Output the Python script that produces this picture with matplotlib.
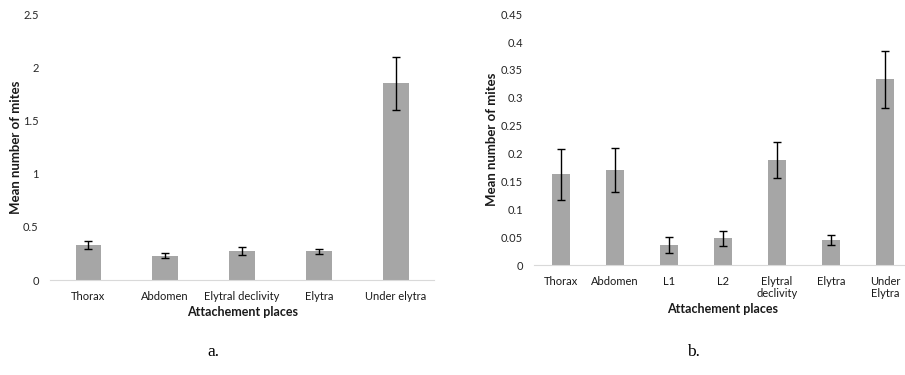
import numpy as np
import matplotlib.pyplot as plt

# panel a
places_a = ["Thorax", "Abdomen", "Elytral declivity", "Elytra", "Under elytra"]
mean_a = [0.33, 0.23, 0.27, 0.27, 1.85]
err_a = [0.035, 0.022, 0.037, 0.027, 0.25]
yticks_a = [0, 0.5, 1, 1.5, 2, 2.5]
yticklabels_a = ["0", "0.5", "1", "1.5", "2", "2.5"]

# panel b
places_b = ["Thorax", "Abdomen", "L1", "L2", "Elytral\ndeclivity", "Elytra", "Under\nElytra"]
mean_b = [0.163, 0.171, 0.036, 0.048, 0.189, 0.045, 0.333]
err_b = [0.046, 0.039, 0.015, 0.013, 0.032, 0.009, 0.051]
yticks_b = [0, 0.05, 0.1, 0.15, 0.2, 0.25, 0.3, 0.35, 0.4, 0.45]
yticklabels_b = ["0", "0.05", "0.1", "0.15", "0.2", "0.25", "0.3", "0.35", "0.4", "0.45"]

plt.rcParams['font.family'] = ['Lato', 'DejaVu Sans']
bar_col = "#a6a6a6"
axis_col = "#d9d9d9"

fig = plt.figure(figsize=(9.05, 3.75), dpi=100)
ax1 = fig.add_axes([0.055, 0.253, 0.425, 0.709])
ax2 = fig.add_axes([0.590, 0.293, 0.4177, 0.669])


def draw(ax, places, means, errs, yt, ytl, ylim):
    x = np.arange(len(places))
    ax.bar(x, means, width=0.33, color=bar_col, zorder=2)
    ax.errorbar(x, means, yerr=errs, fmt='none', ecolor='black',
                elinewidth=1, capsize=3, capthick=1, zorder=3)
    ax.set_xlim(-0.5, len(places) - 0.5)
    ax.set_ylim(*ylim)
    ax.set_yticks(yt)
    ax.set_yticklabels(ytl, fontsize=8, color="#262626")
    ax.set_xticks(x)
    ax.set_xticklabels(places, fontsize=8, color="#1a1a1a", linespacing=1.1)
    for s in ['top', 'right', 'left']:
        ax.spines[s].set_visible(False)
    ax.spines['bottom'].set_color(axis_col)
    ax.tick_params(length=0, pad=8)
    ax.set_xlabel("Attachement places", fontsize=9, fontweight='bold', color="#1a1a1a")
    ax.set_ylabel("Mean number of mites", fontsize=9.5, fontweight='bold', color="#1a1a1a")


draw(ax1, places_a, mean_a, err_a, yticks_a, yticklabels_a, (0, 2.5))
draw(ax2, places_b, mean_b, err_b, yticks_b, yticklabels_b, (0, 0.45))
ax1.xaxis.labelpad = 3
ax2.xaxis.labelpad = 3
ax1.yaxis.labelpad = 1
ax2.yaxis.labelpad = 2

fig.text(213 / 905, 1 - 352 / 375, "a.", fontsize=12.5, family='Liberation Serif',
         ha='center', va='center')
fig.text(693 / 905, 1 - 352 / 375, "b.", fontsize=12.5, family='Liberation Serif',
         ha='center', va='center')

fig.savefig("out.png", dpi=100)
